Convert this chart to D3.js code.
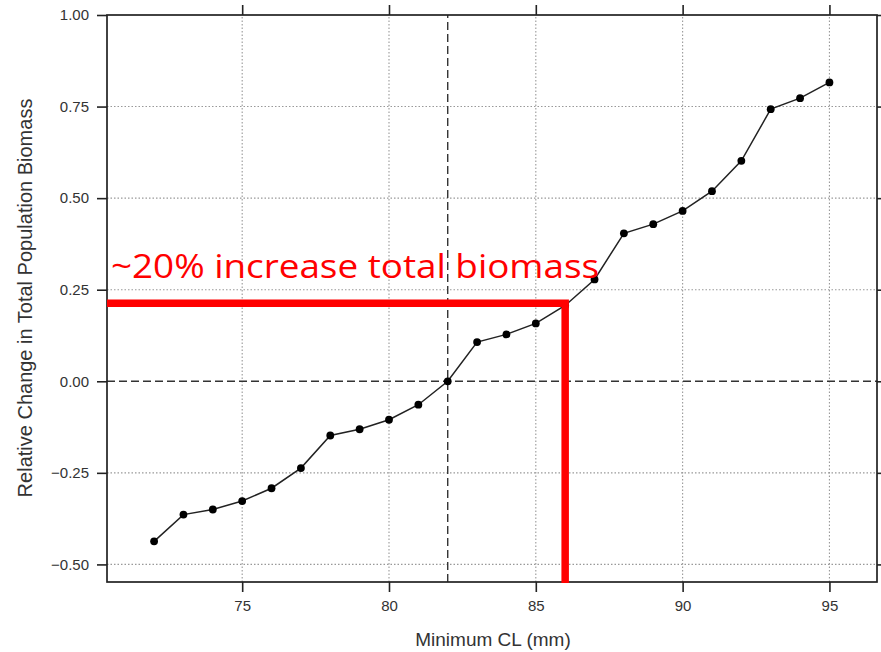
<!DOCTYPE html>
<html>
<head>
<meta charset="utf-8">
<script src="https://cdn.jsdelivr.net/npm/d3@7"></script>
<style>
  html, body { margin: 0; padding: 0; background: #fff; }
  svg { display: block; }
</style>
</head>
<body>
<svg id="chart" width="881" height="652"></svg>
<script>
// ---- data ----
const minCL = [72, 73, 74, 75, 76, 77, 78, 79, 80, 81, 82, 83, 84, 85, 86, 87, 88, 89, 90, 91, 92, 93, 94, 95];
const relChange = [-0.437, -0.364, -0.350, -0.327, -0.292, -0.237, -0.148, -0.131, -0.105, -0.064, 0.000, 0.107,
                   0.128, 0.158, 0.207, 0.278, 0.404, 0.429, 0.465, 0.519, 0.602, 0.743, 0.773, 0.816];
const xTicks = [75, 80, 85, 90, 95];
const yTicks = [-0.50, -0.25, 0.00, 0.25, 0.50, 0.75, 1.00];
const refX = [82];
const refY = [0];
const annotX = [86];
const annotY = [0.213];
const annotText = ["~20% increase total biomass"];
const xTitle = "Minimum CL (mm)";
const yTitle = "Relative Change in Total Population Biomass";

// ---- layout ----
const W = 881, H = 652;
const m = { left: 107, right: 4, top: 15, bottom: 70 };
const svg = d3.select("#chart");

const x = d3.scaleLinear().domain([70.396, 96.62]).range([m.left, W - m.right]);
const y = d3.scaleLinear().domain([-0.548, 1.0]).range([H - m.bottom, m.top]);
const x0 = x.range()[0], x1 = x.range()[1], y0 = y.range()[0], y1 = y.range()[1];

const font = "Liberation Sans, Arial, Helvetica, sans-serif";

// grid
const grid = svg.append("g");
grid.selectAll("line.gx").data(xTicks).join("line")
  .attr("x1", d => x(d)).attr("x2", d => x(d)).attr("y1", y0).attr("y2", y1)
  .attr("stroke", "#999").attr("stroke-width", 1.1).attr("stroke-dasharray", "1.5,2");
grid.selectAll("line.gy").data(yTicks.filter(d => d !== 1 && d !== 0)).join("line")
  .attr("x1", x0).attr("x2", x1).attr("y1", d => y(d)).attr("y2", d => y(d))
  .attr("stroke", "#999").attr("stroke-width", 1.1).attr("stroke-dasharray", "1.5,2");

// reference dashed lines
svg.append("g").selectAll("line").data(refX).join("line")
  .attr("x1", d => x(d)).attr("x2", d => x(d)).attr("y1", y0).attr("y2", y1)
  .attr("stroke", "#333").attr("stroke-width", 1.4).attr("stroke-dasharray", "8,4");
svg.append("g").selectAll("line").data(refY).join("line")
  .attr("x1", x0).attr("x2", x1).attr("y1", d => y(d)).attr("y2", d => y(d))
  .attr("stroke", "#333").attr("stroke-width", 1.4).attr("stroke-dasharray", "8,4");

// data
const pts = minCL.map((v, i) => [v, relChange[i]]);
svg.append("path").datum(pts)
  .attr("fill", "none").attr("stroke", "#222").attr("stroke-width", 1.5)
  .attr("d", d3.line().x(d => x(d[0])).y(d => y(d[1])));
svg.append("g").selectAll("circle").data(pts).join("circle")
  .attr("cx", d => x(d[0])).attr("cy", d => y(d[1])).attr("r", 3.9).attr("fill", "#000");

// axes
const tickStyle = g => {
  g.select(".domain").remove();
  g.selectAll(".tick line").attr("stroke", "#222").attr("stroke-width", 1.6);
  g.selectAll(".tick text").attr("fill", "#333").attr("font-family", font).attr("font-size", 15);
};
svg.append("g").attr("transform", `translate(0,${y0})`)
  .call(d3.axisBottom(x).tickValues(xTicks).tickSize(10).tickPadding(8).tickFormat(d3.format("d")))
  .call(tickStyle);
svg.append("g").attr("transform", `translate(0,${y1})`)
  .call(d3.axisTop(x).tickValues(xTicks).tickSize(10).tickFormat(""))
  .call(tickStyle);
svg.append("g").attr("transform", `translate(${x0},0)`)
  .call(d3.axisLeft(y).tickValues(yTicks).tickSize(10).tickPadding(8).tickFormat(d3.format(".2f")))
  .call(tickStyle);
svg.append("g").attr("transform", `translate(${x1},0)`)
  .call(d3.axisRight(y).tickValues(yTicks).tickSize(10).tickFormat(""))
  .call(tickStyle);

// frame
svg.append("rect").attr("x", x0).attr("y", y1).attr("width", x1 - x0).attr("height", y0 - y1)
  .attr("fill", "none").attr("stroke", "#222").attr("stroke-width", 1.7);

// titles
svg.append("text").attr("x", 493).attr("y", 646).attr("text-anchor", "middle")
  .attr("font-family", font).attr("font-size", 19).attr("fill", "#333").text(xTitle);
svg.append("text").attr("transform", "translate(32,298) rotate(-90)").attr("text-anchor", "middle")
  .attr("font-family", font).attr("font-size", 20).attr("fill", "#333").text(yTitle);

// red annotation
svg.append("path")
  .attr("d", `M${x0},${y(annotY[0])}H${x(annotX[0])}V${y0 + 1}`)
  .attr("fill", "none").attr("stroke", "#ff0000").attr("stroke-width", 7.5)
  .attr("stroke-linejoin", "miter").attr("stroke-linecap", "butt");
svg.append("text").attr("x", 111).attr("y", 278)
  .attr("font-family", "Open Sans, Noto Sans, sans-serif").attr("font-size", 33)
  .attr("fill", "#ff0000").attr("textLength", 488).attr("lengthAdjust", "spacingAndGlyphs")
  .text(annotText[0]);
</script>
</body>
</html>
